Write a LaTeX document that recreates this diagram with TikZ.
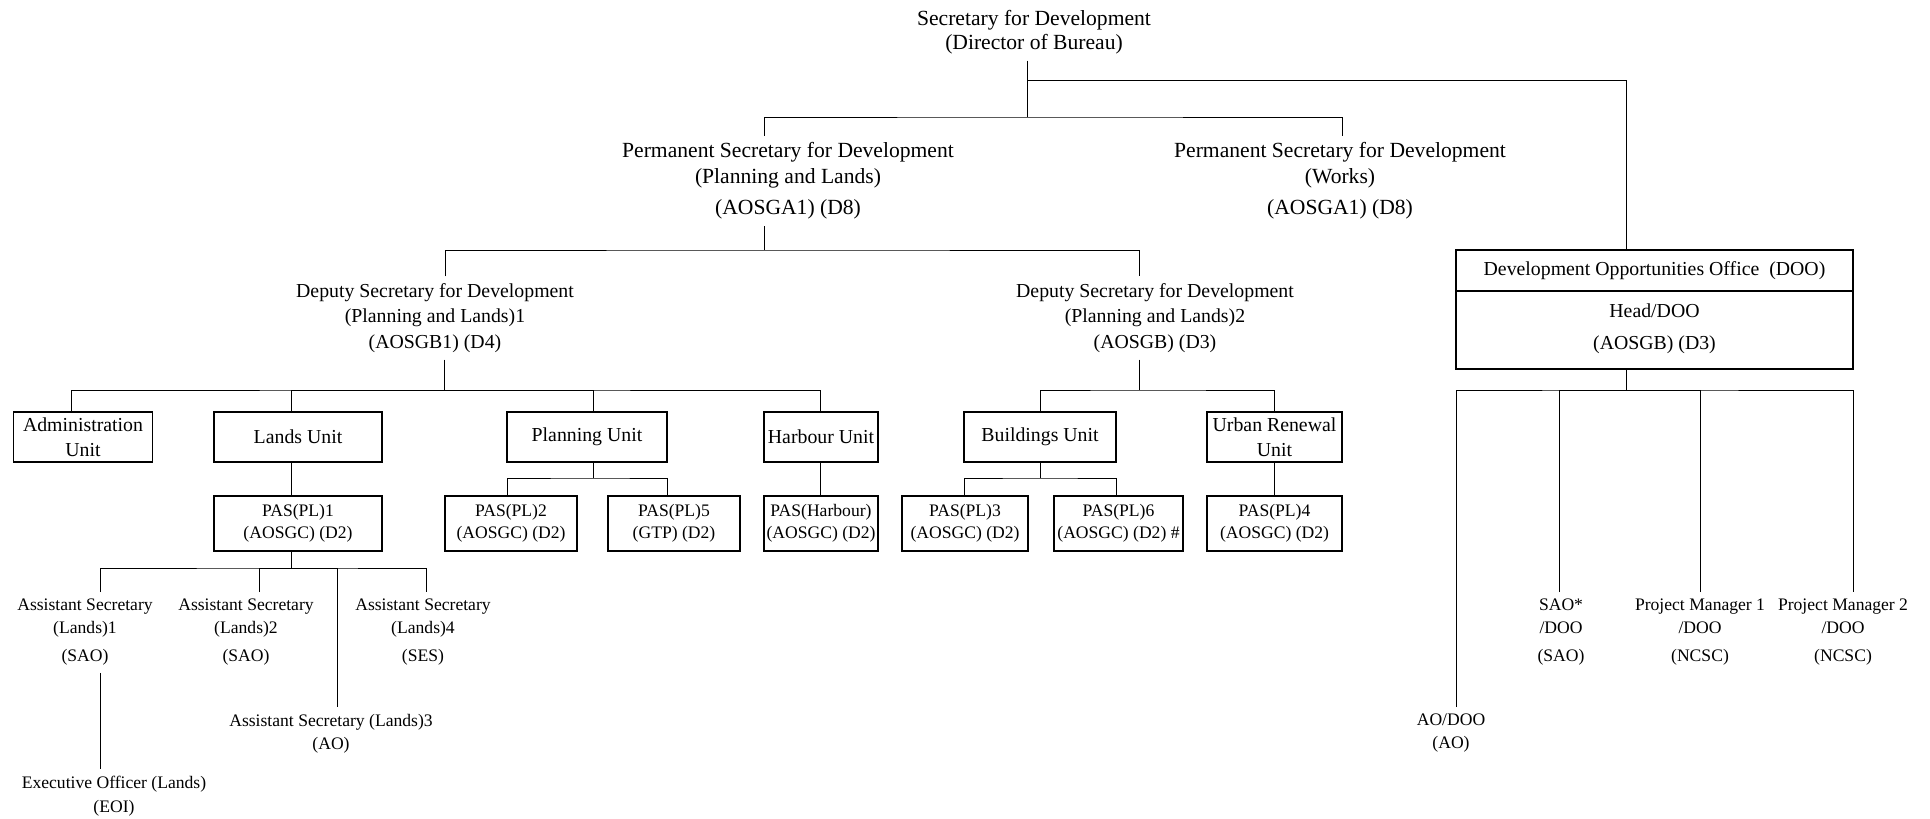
\documentclass[tikz,border=0pt]{standalone}
\usepackage{fontspec}
\setmainfont{Liberation Serif}
\usetikzlibrary{positioning}
\newcommand{\bigfont}{\fontsize{10.8pt}{11.75pt}\selectfont}
\newcommand{\midfont}{\fontsize{9.9pt}{12.5pt}\selectfont}
\newcommand{\smallfont}{\fontsize{8.8pt}{11.5pt}\selectfont}
\tikzset{
  link/.style={line width=.45pt},
  title/.style={align=center,font=\bigfont},
  deputy/.style={align=center,font=\midfont},
  unitbox/.style={draw,line width=.65pt,align=center,font=\midfont,minimum height=25pt,inner sep=1pt},
  pasbox/.style={draw,line width=.65pt,align=center,font=\smallfont,minimum height=27.5pt,inner sep=1pt},
  doobox/.style={draw,line width=.65pt,align=center,font=\midfont,minimum width=198.5pt,inner sep=0pt,outer sep=0pt},
  staff/.style={align=center,font=\smallfont}
}
\begin{document}
\begin{tikzpicture}[x=.5pt,y=-.5pt]
  \useasboundingbox (0,0) rectangle (1930,818);
  % top levels
  \node[title] (sec) at (1034,32) {Secretary for Development\\(Director of Bureau)};
  \node[title] (ps1) at (788,181) {Permanent Secretary for Development\\[1.25pt](Planning and Lands)\\[3.75pt](AOSGA1) (D8)};
  \node[title] (ps2) at (1340,181) {Permanent Secretary for Development\\[1.25pt](Works)\\[3.75pt](AOSGA1) (D8)};
  \node[deputy] (ds1) at (435,318) {Deputy Secretary for Development\\[.3pt](Planning and Lands)1\\[.3pt](AOSGB1) (D4)};
  \node[deputy] (ds2) at (1155,318) {Deputy Secretary for Development\\[.3pt](Planning and Lands)2\\[.3pt](AOSGB) (D3)};
  \node[doobox,minimum height=20.5pt] (doo) at (1654.5,270.5) {Development Opportunities Office\ \ (DOO)};
  \node[doobox,minimum height=39pt,below=0pt of doo] (head) {Head/DOO\\[3.5pt](AOSGB) (D3)\rule[-3pt]{0pt}{3pt}};
  % units
  \node[unitbox,minimum width=69.75pt] (admin) at (83,437) {Administration\\Unit};
  \node[unitbox,minimum width=84pt] (lands) at (298,437) {Lands Unit};
  \node[unitbox,minimum width=80pt] (plan) at (587,437) {Planning Unit};
  \node[unitbox,minimum width=57pt] (harb) at (821,437) {Harbour Unit};
  \node[unitbox,minimum width=76pt] (bldg) at (1040,437) {Buildings Unit};
  \node[unitbox,minimum width=67.5pt] (urban) at (1274.5,437) {Urban Renewal\\Unit};
  % principal assistant secretaries
  \node[pasbox,minimum width=84pt] (pas1) at (298,523.5) {PAS(PL)1\\[-.5pt](AOSGC) (D2)};
  \node[pasbox,minimum width=66pt] (pas2) at (511,523.5) {PAS(PL)2\\[-.5pt](AOSGC) (D2)};
  \node[pasbox,minimum width=66pt] (pas5) at (674,523.5) {PAS(PL)5\\[-.5pt](GTP) (D2)};
  \node[pasbox,minimum width=57pt] (pash) at (821,523.5) {PAS(Harbour)\\[-.5pt](AOSGC) (D2)};
  \node[pasbox,minimum width=63pt] (pas3) at (965,523.5) {PAS(PL)3\\[-.5pt](AOSGC) (D2)};
  \node[pasbox,minimum width=64.5pt] (pas6) at (1118.5,523.5) {PAS(PL)6\\[-.5pt](AOSGC) (D2) \#};
  \node[pasbox,minimum width=67.5pt] (pas4) at (1274.5,523.5) {PAS(PL)4\\[-.5pt](AOSGC) (D2)};
  % assistant secretaries and DOO staff
  \node[staff] (as1) at (85,632.5) {Assistant Secretary\\(Lands)1\\[2.5pt](SAO)};
  \node[staff] (as2) at (246,632.5) {Assistant Secretary\\(Lands)2\\[2.5pt](SAO)};
  \node[staff] (as4) at (423,632.5) {Assistant Secretary\\(Lands)4\\[2.5pt](SES)};
  \node[staff] (as3) at (331,733.5) {Assistant Secretary (Lands)3\\(AO)};
  \node[staff] (eoi) at (114,796) {Executive Officer (Lands)\\[.5pt](EOI)};
  \node[staff] (aodoo) at (1451,733.5) {AO/DOO\\(AO)};
  \node[staff] (sao) at (1561,632.5) {SAO*\\/DOO\\[2.5pt](SAO)};
  \node[staff] (pm1) at (1700,632.5) {Project Manager 1\\/DOO\\[2.5pt](NCSC)};
  \node[staff] (pm2) at (1843,632.5) {Project Manager 2\\/DOO\\[2.5pt](NCSC)};
  % junctions
  \coordinate (s0) at (1027,117);
  \coordinate (s1) at (1027,80);
  \coordinate (p0) at (764,250);
  \coordinate (d0) at (444,390);
  \coordinate (e0) at (1139,390);
  \coordinate (f0) at (1626,390);
  \coordinate (g0) at (593,478);
  \coordinate (h0) at (1040,478);
  \coordinate (k0) at (291,568);
  % secretary
  \draw[link] (sec.south -| s0) -- (s0);
  \draw[link] ([xshift=-12pt]ps1.north) |- (s0) -| ([xshift=1pt]ps2.north);
  \draw[link] (s1) -| ([xshift=-14.25pt]doo.north);
  % permanent secretary (planning and lands)
  \draw[link] (ps1.south -| p0) -- (p0);
  \draw[link] ([xshift=5pt]ds1.north) |- (p0) -| ([xshift=-8pt]ds2.north);
  % deputy secretaries
  \draw[link] (ds1.south -| d0) -- (d0);
  \draw[link] ([xshift=-6pt]admin.north) |- (d0) -| ([xshift=-.5pt]harb.north);
  \draw[link] ([xshift=-3.5pt]lands.north) |- (d0);
  \draw[link] ([xshift=3pt]plan.north) |- (d0);
  \draw[link] (ds2.south -| e0) -- (e0);
  \draw[link] (bldg.north) |- (e0) -| ([xshift=-.25pt]urban.north);
  % DOO
  \draw[link] (head.south -| f0) -- (f0);
  \draw[link] ([xshift=2.5pt]aodoo.north) |- (f0) -| ([xshift=5pt]pm2.north);
  \draw[link] ([xshift=-1pt]sao.north) |- (f0);
  \draw[link] (pm1.north) |- (f0);
  % units to PAS
  \draw[link] ([xshift=-3.5pt]lands.south) -- ([xshift=-3.5pt]pas1.north);
  \draw[link] (plan.south -| g0) -- (g0);
  \draw[link] ([xshift=-2pt]pas2.north) |- (g0) -| ([xshift=-3.5pt]pas5.north);
  \draw[link] ([xshift=-.5pt]harb.south) -- ([xshift=-.5pt]pash.north);
  \draw[link] (bldg.south) -- (h0);
  \draw[link] ([xshift=-.5pt]pas3.north) |- (h0) -| ([xshift=-1.25pt]pas6.north);
  \draw[link] ([xshift=-.25pt]urban.south) -- ([xshift=-.25pt]pas4.north);
  % PAS(PL)1 to assistant secretaries
  \draw[link] (pas1.south -| k0) -- (k0);
  \draw[link] ([xshift=7.5pt]as1.north) |- (k0) -| ([xshift=1.5pt]as4.north);
  \draw[link] ([xshift=6.5pt]as2.north) |- (k0);
  \draw[link] ([xshift=3pt]as3.north) |- (k0);
  \draw[link] ([xshift=7.5pt]as1.south) -- ([xshift=-7pt]eoi.north);
\end{tikzpicture}
\end{document}
